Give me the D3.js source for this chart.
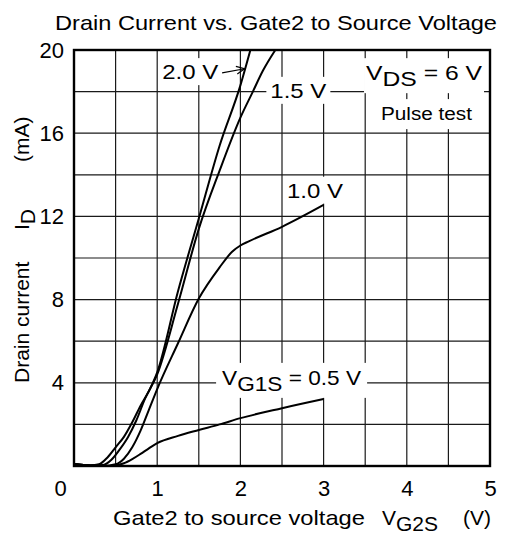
<!DOCTYPE html>
<html>
<head>
<meta charset="utf-8">
<script src="https://cdn.jsdelivr.net/npm/d3@7"></script>
<style>
  body { margin: 0; background: #fff; }
  text { font-family: "Liberation Sans", Arial, sans-serif; fill: #000; }
</style>
</head>
<body>
<svg id="chart" width="506" height="542"></svg>
<script>
// curves: Vg1s = 0.5, 1.0, 1.5, 2.0 V  (x = Vg2s in V, y = Id in mA)
const vg05X = [0, 0.2, 0.35, 0.5, 0.6, 0.7, 0.8, 0.9, 1.0, 1.25, 1.5, 1.75, 2.0, 2.5, 3.0];
const vg05Y = [0.1, 0.03, 0.0, 0.03, 0.13, 0.33, 0.58, 0.85, 1.1, 1.45, 1.73, 2.0, 2.3, 2.78, 3.22];

const vg10X = [0, 0.2, 0.35, 0.5, 0.6, 0.7, 0.8, 0.9, 1.0, 1.25, 1.5, 1.75, 1.9, 2.0, 2.1, 2.5, 3.0];
const vg10Y = [0.1, 0.03, 0.0, 0.08, 0.35, 0.9, 1.7, 2.7, 3.7, 5.9, 8.05, 9.55, 10.3, 10.6, 10.8, 11.5, 12.55];

const vg15X = [0, 0.2, 0.35, 0.45, 0.55, 0.65, 0.75, 0.85, 1.0, 1.25, 1.5, 1.75, 2.0, 2.15, 2.27, 2.42];
const vg15Y = [0.1, 0.03, 0.05, 0.3, 0.8, 1.4, 2.2, 3.2, 4.4, 7.8, 11.4, 14.2, 16.75, 18, 19, 20];

const vg20X = [0, 0.2, 0.3, 0.4, 0.5, 0.6, 0.7, 0.8, 0.9, 1.0, 1.25, 1.5, 1.75, 2.0, 2.12];
const vg20Y = [0.1, 0.03, 0.08, 0.4, 0.9, 1.4, 2.1, 2.9, 3.6, 4.5, 8.4, 11.9, 15.4, 18.3, 20];

const xTicks = [0, 1, 2, 3, 4, 5];
const yTicks = [4, 8, 12, 16, 20];
const xGrid = [0.5, 1, 1.5, 2, 2.5, 3, 3.5, 4, 4.5];
const yGrid = [2, 4, 6, 8, 10, 12, 14, 16, 18];

// curve labels, placed in data units
const labelText = ["2.0 V", "1.5 V", "1.0 V"];
const labelX = [1.06, 2.36, 2.56];
const labelY = [18.6, 17.7, 12.9];
const arrowFrom = [1.78, 18.9];
const arrowTo = [2.05, 19.1];

const margin = { top: 50, right: 16, bottom: 76, left: 74 };
const width = 506, height = 542;
const innerW = width - margin.left - margin.right;
const innerH = height - margin.top - margin.bottom;

const svg = d3.select("#chart");
const g = svg.append("g").attr("transform", `translate(${margin.left},${margin.top})`);
const gridLayer = g.append("g");
const bgLayer = g.append("g");
const curveLayer = g.append("g");
const textLayer = g.append("g");

const x = d3.scaleLinear().domain([0, 5]).range([0, innerW]);
const y = d3.scaleLinear().domain([0, 20]).range([innerH, 0]);

// grid
gridLayer.selectAll("line.gx").data(xGrid).enter().append("line")
  .attr("class", "gx")
  .attr("x1", d => x(d)).attr("x2", d => x(d))
  .attr("y1", 0).attr("y2", innerH)
  .attr("stroke", "#1a1a1a").attr("stroke-width", 1.2);
gridLayer.selectAll("line.gy").data(yGrid).enter().append("line")
  .attr("class", "gy")
  .attr("y1", d => y(d)).attr("y2", d => y(d))
  .attr("x1", 0).attr("x2", innerW)
  .attr("stroke", "#1a1a1a").attr("stroke-width", 1.2);

// axes (labels only)
const xAxis = g.append("g").attr("transform", `translate(0,${innerH})`)
  .call(d3.axisBottom(x).tickValues(xTicks).tickSize(0).tickPadding(14).tickFormat(d3.format("d")));
const yAxis = g.append("g")
  .call(d3.axisLeft(y).tickValues(yTicks).tickSize(0).tickPadding(10).tickFormat(d3.format("d")));
[xAxis, yAxis].forEach(a => {
  a.select(".domain").remove();
  a.selectAll("text").attr("font-size", 22).attr("font-family", null);
});
xAxis.selectAll(".tick").filter(d => d === 0).select("text").attr("dx", -14);

// curves
const line = d3.line().x(d => x(d[0])).y(d => y(d[1])).curve(d3.curveMonotoneX);
const curves = [[vg05X, vg05Y], [vg10X, vg10Y], [vg15X, vg15Y], [vg20X, vg20Y]];
curves.forEach(([xs, ys]) => {
  curveLayer.append("path")
    .datum(xs.map((v, i) => [v, ys[i]]))
    .attr("fill", "none").attr("stroke", "#000").attr("stroke-width", 2)
    .attr("d", line);
});

// frame
g.append("rect").attr("width", innerW).attr("height", innerH)
  .attr("fill", "none").attr("stroke", "#000").attr("stroke-width", 2.4);

// white box behind a label, covering the grid
function backed(sel, padX, padY) {
  const b = sel.node().getBBox();
  bgLayer.append("rect")
    .attr("x", b.x - padX).attr("y", b.y - padY)
    .attr("width", b.width + 2 * padX).attr("height", b.height + 2 * padY)
    .attr("fill", "#fff");
}

labelText.forEach((t, i) => {
  const tx = textLayer.append("text")
    .attr("x", x(labelX[i])).attr("y", y(labelY[i]))
    .attr("font-size", 21).attr("textLength", 56).attr("lengthAdjust", "spacingAndGlyphs").text(t);
  backed(tx, 4, 2);
});

// arrow for 2.0 V
textLayer.append("line")
  .attr("x1", x(arrowFrom[0])).attr("y1", y(arrowFrom[1]))
  .attr("x2", x(arrowTo[0])).attr("y2", y(arrowTo[1]))
  .attr("stroke", "#000").attr("stroke-width", 1.2);
{
  const ax = x(arrowTo[0]), ay = y(arrowTo[1]);
  const ang = Math.atan2(ay - y(arrowFrom[1]), ax - x(arrowFrom[0]));
  const L = 9, w = 0.45;
  textLayer.append("path")
    .attr("d", `M${ax - L * Math.cos(ang - w)},${ay - L * Math.sin(ang - w)}L${ax},${ay}L${ax - L * Math.cos(ang + w)},${ay - L * Math.sin(ang + w)}`)
    .attr("fill", "none").attr("stroke", "#000").attr("stroke-width", 1.2);
}

// VG1S label
const vg1s = textLayer.append("text").attr("x", x(1.78)).attr("y", y(3.9)).attr("font-size", 21)
  .attr("textLength", 139).attr("lengthAdjust", "spacingAndGlyphs");
vg1s.append("tspan").text("V");
vg1s.append("tspan").attr("dy", 6).text("G1S");
vg1s.append("tspan").attr("dy", -6).text(" = 0.5 V");
backed(vg1s, 6, 3);

// VDS label and pulse test
const vds = textLayer.append("text").attr("x", x(3.51)).attr("y", y(18.55)).attr("font-size", 21)
  .attr("textLength", 116).attr("lengthAdjust", "spacingAndGlyphs");
vds.append("tspan").text("V");
vds.append("tspan").attr("dy", 6).text("DS");
vds.append("tspan").attr("dy", -6).text(" = 6 V");
backed(vds, 2, 3);
const pt = textLayer.append("text").attr("x", x(3.69)).attr("y", y(16.63)).attr("font-size", 18)
  .attr("textLength", 91).attr("lengthAdjust", "spacingAndGlyphs").text("Pulse test");
backed(pt, 3, 5);

// title
svg.append("text").attr("x", 55).attr("y", 30).attr("font-size", 21)
  .attr("textLength", 442).attr("lengthAdjust", "spacingAndGlyphs")
  .text("Drain Current vs. Gate2 to Source Voltage");

// x label
svg.append("text").attr("x", 113).attr("y", 525).attr("font-size", 21)
  .attr("textLength", 252).attr("lengthAdjust", "spacingAndGlyphs")
  .text("Gate2 to source voltage");
const xl = svg.append("text").attr("x", 382).attr("y", 525).attr("font-size", 21);
xl.append("tspan").text("V");
xl.append("tspan").attr("dy", 6).text("G2S");
svg.append("text").attr("x", 463).attr("y", 525).attr("font-size", 21).text("(V)");

// y label
const yl = svg.append("text").attr("transform", "translate(29,383) rotate(-90)").attr("font-size", 21);
yl.append("tspan").attr("x", 0).text("Drain current");
yl.append("tspan").attr("x", 153).text("I");
yl.append("tspan").attr("dy", 6).text("D");
yl.append("tspan").attr("x", 221).attr("dy", -6).text("(mA)");
</script>
</body>
</html>
